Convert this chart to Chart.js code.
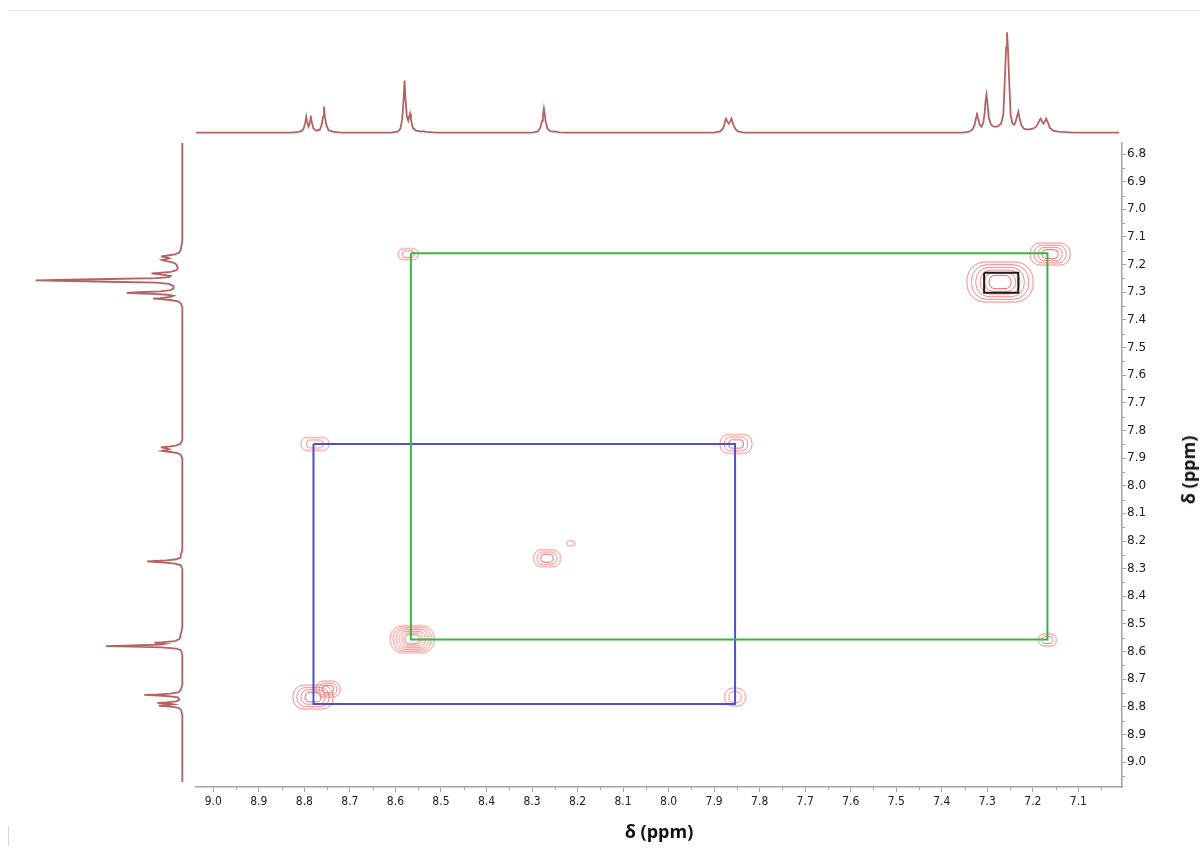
<!DOCTYPE html>
<html>
<head>
<meta charset="utf-8">
<script src="https://cdn.jsdelivr.net/npm/chart.js@4.4.1/dist/chart.umd.min.js"></script>
<style>
    html, body { margin: 0; padding: 0; background: #fff; }
    body { width: 1200px; height: 852px; position: relative; overflow: hidden; }
    canvas { position: absolute; }
    #frameTop { position: absolute; left: 8px; top: 10px; width: 1192px; border-top: 1px solid #dfe5ec; }
    #frameLeft { position: absolute; left: 8px; top: 826px; height: 20px; border-left: 1px solid #cfd7e0; }
    #yTitle {
        position: absolute; left: 1188px; top: 470px;
        transform: translate(-50%, -50%) rotate(-90deg);
        font: bold 18px "Open Sans", sans-serif; color: #111; white-space: nowrap;
    }
</style>
</head>
<body>
<div id="frameTop"></div>
<div id="frameLeft"></div>
<canvas id="mainChart" style="left:0;top:0;width:1200px;height:852px" width="1200" height="852"></canvas>
<canvas id="topSpec" style="left:196px;top:28px;width:923px;height:107px" width="923" height="107"></canvas>
<canvas id="leftSpec" style="left:28px;top:143px;width:157px;height:644px" width="157" height="644"></canvas>
<div id="yTitle">δ (ppm)</div>
<script>
// 1D proton spectrum (ppm, relative intensity)
const specPpm = [9.072, 9.035, 8.830, 8.812, 8.805, 8.801, 8.798, 8.796, 8.794, 8.791, 8.789, 8.787, 8.786, 8.784, 8.780, 8.774,
    8.766, 8.762, 8.759, 8.757, 8.755, 8.752, 8.747, 8.738, 8.720,
    8.610, 8.595, 8.589, 8.585, 8.582, 8.580, 8.578, 8.575, 8.572, 8.570, 8.568, 8.566, 8.562, 8.555, 8.548, 8.544, 8.539, 8.533, 8.510,
    8.300, 8.287, 8.282, 8.278, 8.276, 8.274, 8.272, 8.270, 8.266, 8.260, 8.255, 8.252, 8.248, 8.240, 8.225,
    7.900, 7.887, 7.881, 7.878, 7.875, 7.874, 7.871, 7.868, 7.865, 7.862, 7.861, 7.858, 7.854, 7.848, 7.835,
    7.355, 7.340, 7.333, 7.328, 7.325, 7.323, 7.321, 7.317, 7.313, 7.309, 7.306, 7.304, 7.302, 7.300, 7.297, 7.292, 7.286,
    7.278, 7.270, 7.265, 7.262, 7.259, 7.257, 7.255, 7.252, 7.249, 7.245, 7.241, 7.238, 7.235, 7.232, 7.230, 7.226, 7.220,
    7.212, 7.200, 7.193, 7.188, 7.185, 7.183, 7.180, 7.177, 7.174, 7.171, 7.170, 7.167, 7.163, 7.156, 7.145, 7.130, 7.110, 7.011, 6.760];
const specInt = [0, 0, 0, 0.8, 2, 5, 10, 16, 11, 6, 8, 13, 17, 11, 4, 2,
    3, 8, 16, 26, 16, 8, 2.5, 1, 0,
    0, 1, 4, 14, 34, 52, 34, 16, 12, 16, 19, 13, 5, 2, 1.5, 1, 1.5, 0.8, 0,
    0, 1.2, 5, 12, 18, 24, 18, 11, 4, 1.5, 1, 1.3, 1, 0.3, 0,
    0, 1.2, 4, 8, 13, 14, 11, 9, 11, 14, 14, 8, 4, 1.2, 0,
    0, 1, 3, 8, 15, 20, 15, 8, 6, 10, 20, 32, 38, 30, 15, 8, 6,
    6, 9, 18, 50, 85, 100, 85, 50, 18, 9, 8, 11, 16, 21, 16, 8, 4,
    3, 4, 6, 10, 13, 14, 11, 9, 11, 14, 14, 10, 5, 2, 1, 0.5, 0, 0, 0];

// 2D contour peaks (F2 ppm, F1 ppm)
const peakX = [8.777, 7.852, 8.267, 8.215, 8.563, 8.781, 8.748, 7.854, 7.272, 7.162, 8.572, 7.168];
const peakY = [7.849, 7.849, 8.262, 8.208, 8.555, 8.765, 8.736, 8.765, 7.263, 7.162, 7.162, 8.558];
// contour blob look (pixels / ring count), kept apart from the data
const blobW = [28, 32, 27, 8, 44, 40, 24, 21, 66, 40, 20, 18];
const blobH = [13, 19, 17, 5, 27, 24, 16, 18, 40, 22, 11, 12];
const blobRings = [2, 3, 3, 1, 6, 4, 3, 2, 6, 4, 2, 2];

// correlation boxes [x1, x2] / [y1, y2] in ppm
const greenX = [8.566, 7.168];
const greenY = [7.159, 8.556];
const blueX = [8.780, 7.854];
const blueY = [7.849, 8.790];
const blackX = [7.307, 7.232];
const blackY = [7.229, 7.302];

// tick labels
const xTickVals = [9.0, 8.9, 8.8, 8.7, 8.6, 8.5, 8.4, 8.3, 8.2, 8.1, 8.0, 7.9, 7.8, 7.7, 7.6, 7.5, 7.4, 7.3, 7.2, 7.1];
const yTickVals = [6.8, 6.9, 7.0, 7.1, 7.2, 7.3, 7.4, 7.5, 7.6, 7.7, 7.8, 7.9, 8.0, 8.1, 8.2, 8.3, 8.4, 8.5, 8.6, 8.7, 8.8, 8.9, 9.0];

const X_MIN = 7.0042, X_MAX = 9.038;
const Y_MIN = 6.760, Y_MAX = 9.090;
const specColor = "#b56262";
const axisColor = "#a3a3a3";

function boxPath(xs, ys) {
    return [
        { x: xs[0], y: ys[0] }, { x: xs[1], y: ys[0] },
        { x: xs[1], y: ys[1] }, { x: xs[0], y: ys[1] },
        { x: xs[0], y: ys[0] },
    ];
}

// nested rings drawn into a small canvas, used as a point style
function blobImage(w, h, rings) {
    const c = document.createElement("canvas");
    c.width = Math.ceil(w) + 4;
    c.height = Math.ceil(h) + 4;
    const g = c.getContext("2d");
    g.lineWidth = 1;
    for (let i = 0; i < rings; i++) {
        const f = rings === 1 ? 1 : 1 - (i / rings) * 0.8;
        const rw = w * f, rh = h * f;
        g.strokeStyle = i === rings - 1 && rings > 2 ? "rgba(220, 70, 70, 0.85)" : "rgba(236, 92, 92, 0.75)";
        g.beginPath();
        if (g.roundRect) {
            g.roundRect(c.width / 2 - rw / 2, c.height / 2 - rh / 2, rw, rh, Math.min(rw, rh) * 0.45);
        } else {
            g.ellipse(c.width / 2, c.height / 2, rw / 2, rh / 2, 0, 0, Math.PI * 2);
        }
        g.stroke();
    }
    return c;
}
const blobImgs = peakX.map((_, i) => blobImage(blobW[i], blobH[i], blobRings[i]));

// small unlabelled ticks halfway between the labelled ones
const minorTicks = {
    id: "minorTicks",
    afterDraw(chart) {
        const { ctx, chartArea, scales } = chart;
        ctx.save();
        ctx.strokeStyle = axisColor;
        ctx.lineWidth = 1;
        ctx.beginPath();
        xTickVals.forEach((v) => {
            [v - 0.05, v + 0.05].forEach((m) => {
                if (m < X_MIN || m > X_MAX) return;
                const px = Math.round(scales.x.getPixelForValue(m)) + 0.5;
                ctx.moveTo(px, chartArea.bottom);
                ctx.lineTo(px, chartArea.bottom + 3);
            });
        });
        yTickVals.forEach((v) => {
            [v - 0.05, v + 0.05].forEach((m) => {
                if (m < Y_MIN || m > Y_MAX) return;
                const py = Math.round(scales.y.getPixelForValue(m)) + 0.5;
                ctx.moveTo(chartArea.right, py);
                ctx.lineTo(chartArea.right + 3, py);
            });
        });
        ctx.stroke();
        ctx.restore();
    },
};

Chart.defaults.animation = false;
Chart.defaults.plugins.legend.display = false;
Chart.defaults.plugins.tooltip.enabled = false;
Chart.defaults.events = [];

// Main 2D plot
new Chart(document.getElementById("mainChart"), {
    type: "scatter",
    data: {
        datasets: [
            { data: boxPath(blackX, blackY), showLine: true, borderColor: "#1a1a1a", borderWidth: 2, pointRadius: 0 },
            { data: boxPath(greenX, greenY), showLine: true, borderColor: "#3db24a", borderWidth: 2, pointRadius: 0 },
            { data: boxPath(blueX, blueY), showLine: true, borderColor: "#4f4fd2", borderWidth: 2, pointRadius: 0 },
            {
                data: peakX.map((x, i) => ({ x: x, y: peakY[i] })),
                pointStyle: (c) => blobImgs[c.dataIndex],
                pointRadius: 5,
            },
        ],
    },
    options: {
        responsive: false,
        layout: { padding: { left: 196, top: 143, right: 0, bottom: 0 } },
        scales: {
            x: {
                type: "linear",
                position: "bottom",
                reverse: true,
                min: X_MIN,
                max: X_MAX,
                afterBuildTicks: (s) => { s.ticks = xTickVals.map((v) => ({ value: v })); },
                afterFit: (s) => { s.height = 65; },
                grid: { drawOnChartArea: false, drawTicks: true, tickLength: 5, tickColor: axisColor, tickWidth: 1 },
                border: { display: true, color: axisColor, width: 1.5 },
                ticks: {
                    autoSkip: false,
                    maxRotation: 0,
                    padding: 3,
                    color: "#222",
                    font: { family: "'DejaVu Sans Condensed', 'DejaVu Sans', sans-serif", size: 12 },
                    callback: (v) => Number(v).toFixed(1),
                },
                title: {
                    display: true,
                    text: "δ (ppm)",
                    color: "#111",
                    font: { family: "'Open Sans', sans-serif", size: 18, weight: "bold" },
                    padding: { top: 0, bottom: 8 },
                },
            },
            y: {
                type: "linear",
                position: "right",
                reverse: true,
                min: Y_MIN,
                max: Y_MAX,
                afterBuildTicks: (s) => { s.ticks = yTickVals.map((v) => ({ value: v })); },
                afterFit: (s) => { s.width = 78; },
                grid: { drawOnChartArea: false, drawTicks: true, tickLength: 4, tickColor: axisColor, tickWidth: 1 },
                border: { display: true, color: axisColor, width: 1.5 },
                ticks: {
                    autoSkip: false,
                    padding: 1,
                    color: "#222",
                    font: { family: "'DejaVu Sans', sans-serif", size: 12 },
                    callback: (v) => Number(v).toFixed(1),
                },
            },
        },
    },
    plugins: [minorTicks],
});

// Top projection (F2)
new Chart(document.getElementById("topSpec"), {
    type: "scatter",
    data: {
        datasets: [{
            data: specPpm.map((p, i) => ({ x: p, y: specInt[i] })),
            showLine: true,
            borderColor: specColor,
            borderWidth: 1.8,
            pointRadius: 0,
            tension: 0,
        }],
    },
    options: {
        responsive: false,
        layout: { padding: 0 },
        scales: {
            x: { type: "linear", display: false, reverse: true, min: 7.011, max: X_MAX },
            y: { type: "linear", display: false, min: -2.29, max: 104.3 },
        },
    },
});

// Left projection (F1)
new Chart(document.getElementById("leftSpec"), {
    type: "scatter",
    data: {
        datasets: [{
            data: specPpm.map((p, i) => ({ x: specInt[i], y: p })),
            showLine: true,
            borderColor: specColor,
            borderWidth: 1.8,
            pointRadius: 0,
            tension: 0,
        }],
    },
    options: {
        responsive: false,
        layout: { padding: 0 },
        scales: {
            x: { type: "linear", display: false, reverse: true, min: -1.84, max: 105.2 },
            y: { type: "linear", display: false, reverse: true, min: Y_MIN, max: Y_MAX },
        },
    },
});
</script>
</body>
</html>
